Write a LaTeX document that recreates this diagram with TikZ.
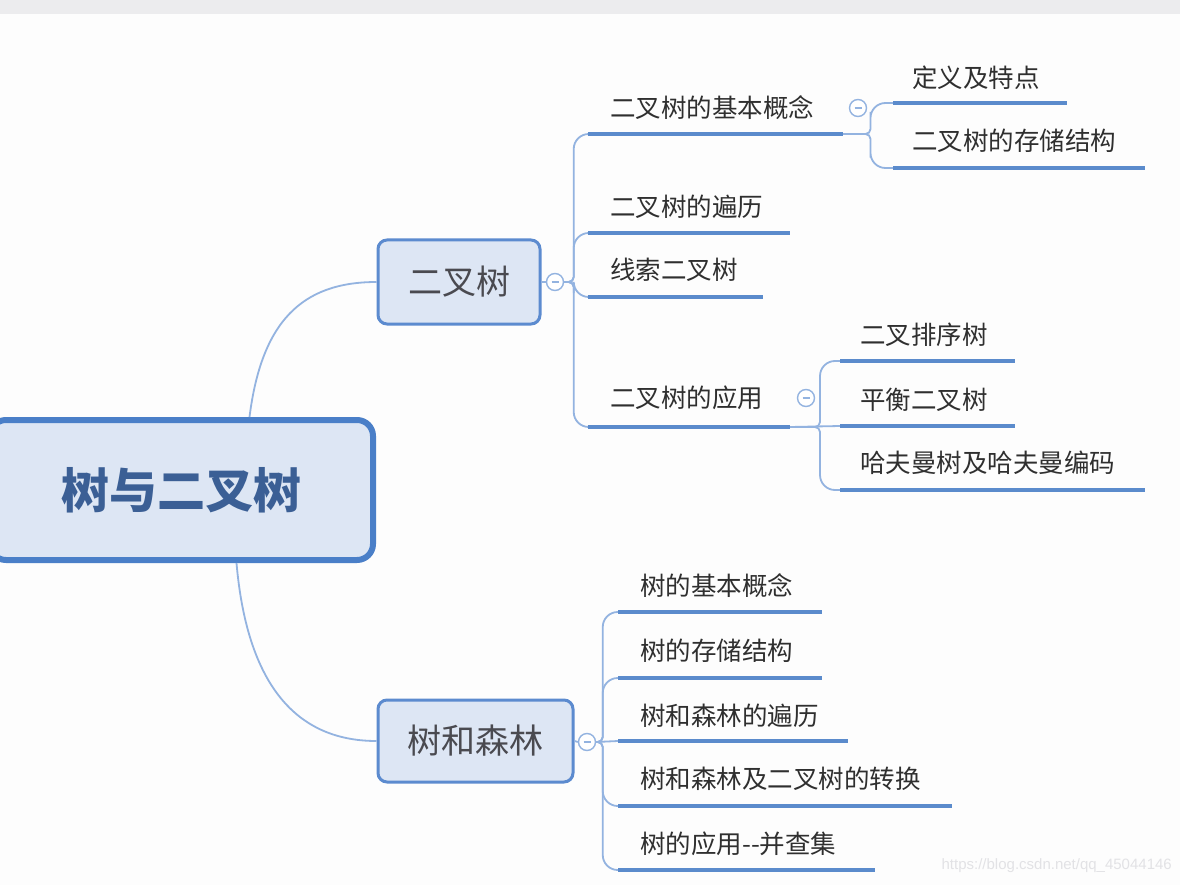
\documentclass[tikz,border=0pt]{standalone}
\usepackage{fontspec}
\newfontfamily\cjk{Noto Sans CJK SC}
\newfontfamily\wm{Liberation Sans}
\usetikzlibrary{calc}
\definecolor{boxfill}{HTML}{DDE6F4}
\definecolor{rootborder}{HTML}{4A7FC8}
\definecolor{subborder}{HTML}{5C8BCF}
\definecolor{connc}{HTML}{93B3E0}
\definecolor{ulinec}{HTML}{5B8BCC}
\definecolor{leaftext}{HTML}{2F2F2F}
\definecolor{boxtext}{HTML}{4A4A50}
\definecolor{roottext}{HTML}{3B5F95}
\definecolor{bandc}{HTML}{ECECEE}
\definecolor{bgc}{HTML}{FDFDFD}
\definecolor{wmc}{HTML}{E2E2E5}
\begin{document}
\begin{tikzpicture}[x=1pt,y=-1pt,
  rootbox/.style={draw=rootborder, line width=6pt, fill=boxfill, rounded corners=16pt,
    minimum width=383pt, minimum height=140pt, inner sep=0pt, text=roottext,
    font=\cjk\bfseries\fontsize{48}{48}\selectfont},
  subbox/.style={draw=subborder, line width=3pt, fill=boxfill, rounded corners=9pt,
    inner sep=0pt, text=boxtext, font=\cjk\fontsize{34}{34}\selectfont},
  leaf/.style={anchor=west, inner sep=0pt, text=leaftext, font=\cjk\fontsize{25.5}{25.5}\selectfont},
  fold/.style={circle, draw=connc, line width=1.4pt, fill=white, minimum size=17pt, inner sep=0pt,
    path picture={\draw[connc, line width=1.2pt] ([xshift=-3.5pt]path picture bounding box.center) -- ([xshift=3.5pt]path picture bounding box.center);}},
  conn/.style={draw=connc, line width=1.8pt},
  uline/.style={draw=ulinec, line width=4pt},
  elbow/.style={to path={[rounded corners=5pt] -| ($(\tikztostart)!#1!(\tikztotarget)$) [rounded corners=15pt] |- (\tikztotarget)}}
]
\useasboundingbox (0,0) rectangle (1180,885);
\clip (0,0) rectangle (1180,885);
\fill[bgc] (0,0) rectangle (1180,885);
\fill[bandc] (0,0) rectangle (1180,14);

% main nodes
\node[rootbox] (root) at (181.5,490) {树与二叉树};
\node[subbox, minimum width=162pt, minimum height=84pt] (bt) at (459,282) {二叉树};
\node[subbox, minimum width=195pt, minimum height=82pt] (tf) at (475.5,741) {树和森林};

% fold circles
\node[fold] (btc) at (555,282) {};
\node[fold] (tfc) at (587,742) {};
\node[fold] (a1c) at (858,108) {};
\node[fold] (a4c) at (806,398) {};

% underline coordinates
\coordinate (a1s) at (588,134); \coordinate (a1e) at (843,134);
\coordinate (a2s) at (588,233); \coordinate (a2e) at (790,233);
\coordinate (a3s) at (588,297); \coordinate (a3e) at (763,297);
\coordinate (a4s) at (588,427); \coordinate (a4e) at (790,427);
\coordinate (b1s) at (893,103); \coordinate (b1e) at (1067,103);
\coordinate (b2s) at (893,168); \coordinate (b2e) at (1145,168);
\coordinate (c1s) at (840,361); \coordinate (c1e) at (1015,361);
\coordinate (c2s) at (840,426); \coordinate (c2e) at (1015,426);
\coordinate (c3s) at (840,490); \coordinate (c3e) at (1145,490);
\coordinate (d1s) at (618,612); \coordinate (d1e) at (822,612);
\coordinate (d2s) at (618,678); \coordinate (d2e) at (822,678);
\coordinate (d3s) at (618,741); \coordinate (d3e) at (848,741);
\coordinate (d4s) at (618,806); \coordinate (d4e) at (952,806);
\coordinate (d5s) at (618,870); \coordinate (d5e) at (875,870);

% labels
\node[leaf] (a1) at (610,108) {二叉树的基本概念};
\node[leaf] (a2) at (610,207) {二叉树的遍历};
\node[leaf] (a3) at (610,270) {线索二叉树};
\node[leaf] (a4) at (610,398) {二叉树的应用};
\node[leaf] (b1) at (912,78) {定义及特点};
\node[leaf] (b2) at (912,141) {二叉树的存储结构};
\node[leaf] (c1) at (860,335) {二叉排序树};
\node[leaf] (c2) at (860,400) {平衡二叉树};
\node[leaf] (c3) at (860,463) {哈夫曼树及哈夫曼编码};
\node[leaf] (d1) at (640,586) {树的基本概念};
\node[leaf] (d2) at (640,651) {树的存储结构};
\node[leaf] (d3) at (640,716) {树和森林的遍历};
\node[leaf] (d4) at (640,779) {树和森林及二叉树的转换};
\node[leaf] (d5) at (640,844) {树的应用-{}-并查集};

% connectors from root
\draw[conn] ([xshift=68pt]root.north) .. controls +(12,-95) and +(-75,0) .. (bt.west);
\draw[conn] ([xshift=55pt]root.south) .. controls +(10,115) and +(-85,0) .. (tf.west);

% 二叉树 branch
\draw[conn] (bt.east) -- (btc.west);
\draw[conn] (btc.east) to[elbow=0.4] (a1s);
\draw[conn] (btc.east) to[elbow=0.4] (a2s);
\draw[conn] (btc.east) to[elbow=0.4] (a3s);
\draw[conn] (btc.east) to[elbow=0.4] (a4s);
\draw[conn] (a1e) to[elbow=0.55] (b1s);
\draw[conn] (a1e) to[elbow=0.55] (b2s);
\draw[conn] (a4e) to[elbow=0.6] (c1s);
\draw[conn] (a4e) -- (c2s);
\draw[conn] (a4e) to[elbow=0.6] (c3s);

% 树和森林 branch
\draw[conn] (tf.east) -- (tfc.west);
\draw[conn] (tfc.east) to[elbow=0.3] (d1s);
\draw[conn] (tfc.east) to[elbow=0.3] (d2s);
\draw[conn] (tfc.east) -- (d3s);
\draw[conn] (tfc.east) to[elbow=0.3] (d4s);
\draw[conn] (tfc.east) to[elbow=0.3] (d5s);

% underlines
\foreach \u in {a1,a2,a3,a4,b1,b2,c1,c2,c3,d1,d2,d3,d4,d5}{
  \draw[uline] (\u s) -- (\u e);
}

% watermark
\node[anchor=east, inner sep=0pt, text=wmc, font=\wm\fontsize{15}{15}\selectfont] (wmk) at (1172,866) {https://blog.csdn.net/qq\_45044146};
\end{tikzpicture}
\end{document}
